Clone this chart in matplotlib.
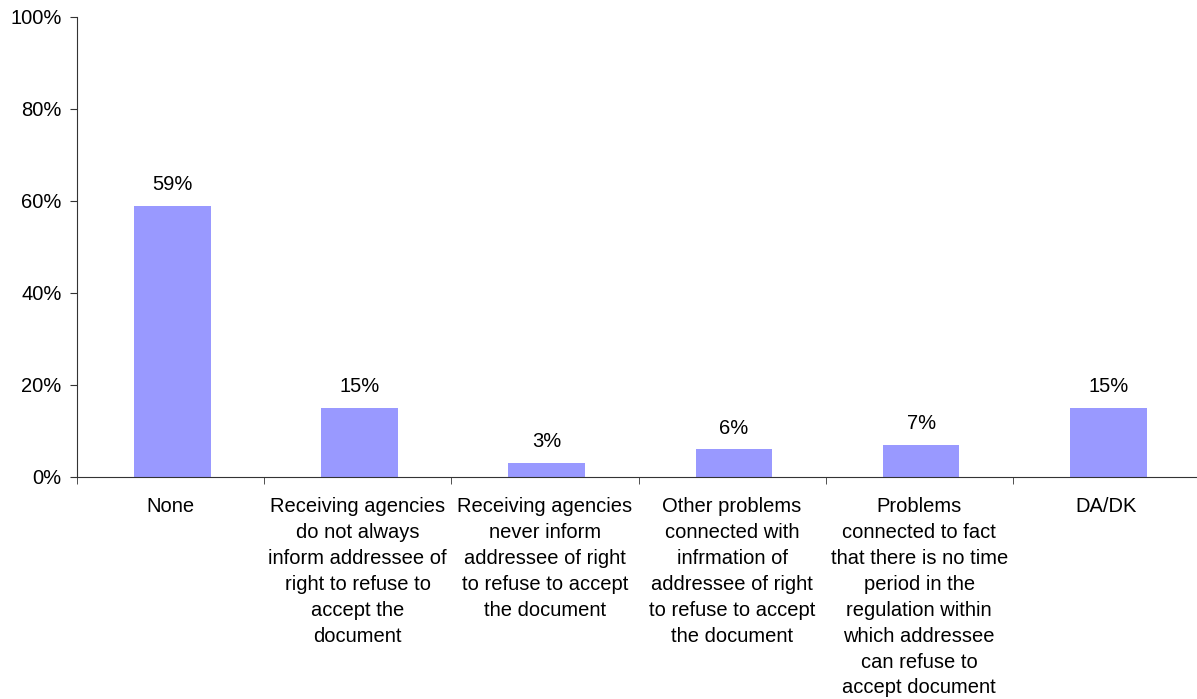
import matplotlib.pyplot as plt
import numpy as np

categories = [
    "None",
    "Receiving agencies\ndo not always\ninform addressee of\nright to refuse to\naccept the\ndocument",
    "Receiving agencies\nnever inform\naddressee of right\nto refuse to accept\nthe document",
    "Other problems\nconnected with\ninfrmation of\naddressee of right\nto refuse to accept\nthe document",
    "Problems\nconnected to fact\nthat there is no time\nperiod in the\nregulation within\nwhich addressee\ncan refuse to\naccept document",
    "DA/DK",
]
values = [59, 15, 3, 6, 7, 15]
y_ticks = [0, 20, 40, 60, 80, 100]

plt.rcParams['font.family'] = ['Liberation Sans', 'DejaVu Sans']
fs = 14.5

fig = plt.figure(figsize=(11.97, 6.99), dpi=100)
ax = fig.add_axes([77 / 1197, 0.3176, 1123 / 1197, 0.6581])

x = np.arange(len(categories))
ax.bar(x + 0.01, values, width=0.41, color='#9999FF')

for xi, v in zip(x, values):
    ax.annotate(f"{v}%", (xi + 0.01, v), xytext=(0, 8.5), textcoords='offset points',
                ha='center', va='bottom', fontsize=fs)

ax.set_xlim(-0.5, len(categories) - 0.5)
ax.set_ylim(0, 100)
ax.set_yticks(y_ticks)
ax.set_yticklabels([f"{t}%" for t in y_ticks], fontsize=fs)

ax.set_xticks(x)
ax.set_xticklabels(categories, fontsize=fs, va='top', linespacing=1.46)
ax.tick_params(axis='x', which='major', length=0, pad=14.5)
ax.set_xticks(np.arange(-0.5, len(categories) - 0.5), minor=True)
ax.tick_params(axis='x', which='minor', length=5, direction='out', color='#333333')
ax.tick_params(axis='y', length=5, direction='out', pad=6, color='#333333')

for side in ['top', 'right']:
    ax.spines[side].set_visible(False)
for side in ['left', 'bottom']:
    ax.spines[side].set_color('#333333')

fig.savefig('out.png', dpi=100)
